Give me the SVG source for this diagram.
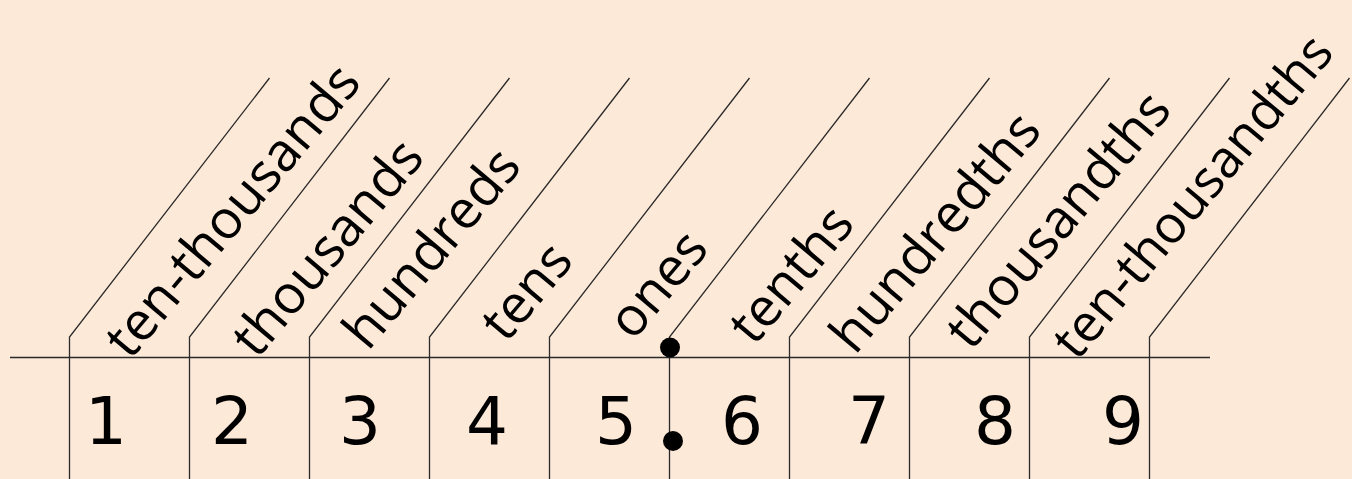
<svg xmlns="http://www.w3.org/2000/svg" width="1352" height="479" viewBox="0 0 1352 479">
<style>
.ln{fill:none;stroke:#2a2a2a;stroke-width:1.3}
.lb{font-family:"Open Sans","DejaVu Sans",sans-serif;font-size:53.5px;fill:#000}
.dg{font-family:"DejaVu Sans","Liberation Sans",sans-serif;font-size:66px;fill:#000;text-anchor:middle}
.dot{fill:#000}
</style>
<rect width="1352" height="479" fill="#fde9d8"/>
<g id="connectors">
<path class="ln" d="M10,357.5H1210"/>
</g>
<g id="col1"><path class="ln" d="M69.5,479V337L269.5,78"/><text class="lb" transform="translate(130,361) rotate(-50)">ten-thousands</text><text class="dg" x="106" y="444">1</text></g>
<g id="col2"><path class="ln" d="M189.5,479V337L389.5,78"/><text class="lb" transform="translate(257,360) rotate(-50)">thousands</text><text class="dg" x="232" y="444">2</text></g>
<g id="col3"><path class="ln" d="M309.5,479V337L509.5,78"/><text class="lb" transform="translate(368,352) rotate(-50)">hundreds</text><text class="dg" x="360" y="444">3</text></g>
<g id="col4"><path class="ln" d="M429.5,479V337L629.5,78"/><text class="lb" transform="translate(506,344) rotate(-50)">tens</text><text class="dg" x="487" y="444">4</text></g>
<g id="col5"><path class="ln" d="M549.5,479V337L749.5,78"/><text class="lb" transform="translate(633,342) rotate(-50)">ones</text><text class="dg" x="616" y="444">5</text></g>
<g id="col6"><path class="ln" d="M669.5,479V337L869.5,78"/><text class="lb" transform="translate(754,347) rotate(-50)">tenths</text><text class="dg" x="742" y="444">6</text></g>
<g id="col7"><path class="ln" d="M789.5,479V337L989.5,78"/><text class="lb" transform="translate(855,356) rotate(-50)">hundredths</text><text class="dg" x="869" y="444">7</text></g>
<g id="col8"><path class="ln" d="M909.5,479V337L1109.5,78"/><text class="lb" transform="translate(971,352) rotate(-50)">thousandths</text><text class="dg" x="995" y="444">8</text></g>
<g id="col9"><path class="ln" d="M1029.5,479V337L1229.5,78"/><text class="lb" style="font-size:52px" transform="translate(1077,362) rotate(-50)">ten-thousandths</text><text class="dg" x="1123" y="444">9</text></g>
<g id="col10"><path class="ln" d="M1149.5,479V337L1349.5,78"/></g>
<g id="decimal-point">
<circle class="dot" cx="670" cy="347.5" r="10"/>
<circle class="dot" cx="673" cy="441" r="10"/>
</g>
</svg>
